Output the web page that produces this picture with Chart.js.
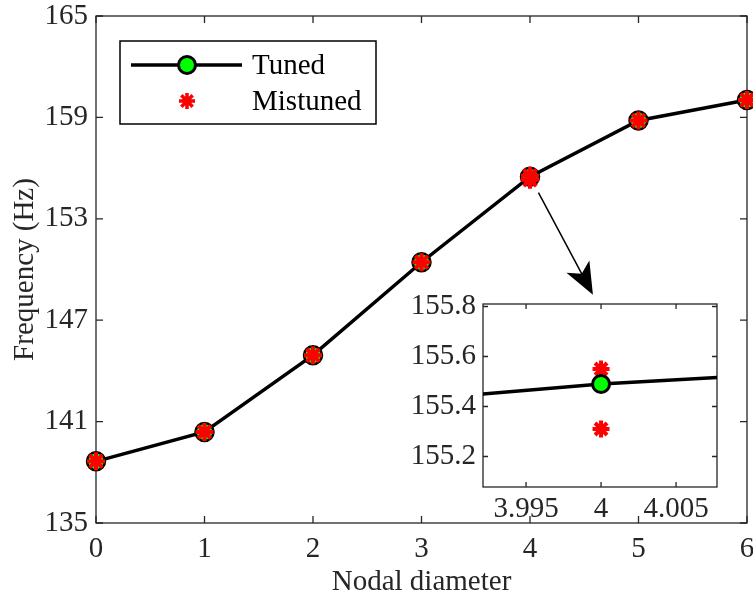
<!DOCTYPE html>
<html>
<head>
<meta charset="utf-8">
<script src="https://cdn.jsdelivr.net/npm/chart.js@4.4.0/dist/chart.umd.min.js"></script>
<style>
  html, body { margin: 0; padding: 0; background: #fff; }
  #wrap { position: relative; width: 753px; height: 602px; }
  #main { position: absolute; left: 0; top: 0; }
  #inset { position: absolute; left: 400px; top: 280px; }
</style>
</head>
<body>
<div id="wrap">
  <canvas id="main" width="753" height="602"></canvas>
  <canvas id="inset" width="345" height="250"></canvas>
</div>
<script>
// Values
const nodalDiameters = [0, 1, 2, 3, 4, 5, 6];
const tunedFreq = [138.65, 140.39, 144.93, 150.43, 155.49, 158.82, 160.03];
const mistunedND = [0, 1, 2, 3, 4, 4, 5, 6];
const mistunedFreq = [138.65, 140.39, 144.93, 150.43, 155.55, 155.31, 158.82, 160.03];

const mainXTicks = [0, 1, 2, 3, 4, 5, 6];
const mainYTicks = [135, 141, 147, 153, 159, 165];
const insetXTicks = [3.995, 4, 4.005];
const insetYTicks = [155.2, 155.4, 155.6, 155.8];
const insetXRange = [3.99213, 4.00773];
const insetYRange = [155.078, 155.81];

// arrow from the ND=4 point down to the inset
const arrowFrom = { x: 4, y: 155.49 };
const arrowTo = { x: 4.58, y: 148.5 };

const FONT = "'Liberation Serif', 'Times New Roman', serif";
const AXIS_COLOR = '#262626';

const toPoints = (xs, ys) => xs.map((x, i) => ({ x: x, y: ys[i] }));

function fixedTicks(values) {
  return scale => { scale.ticks = values.map(v => ({ value: v })); };
}

// pin the axis size and drop the label overflow padding chart.js adds
function fitTo(prop, size) {
  return s => {
    s[prop] = size;
    s.paddingLeft = 0; s.paddingRight = 0;
    s.paddingTop = 0; s.paddingBottom = 0;
  };
}

// box round the axes with inward ticks, like MATLAB
function framePlugin(len, lw) {
  return {
    id: 'frame',
    beforeDraw(chart) {
      const { ctx, chartArea: a } = chart;
      ctx.save();
      ctx.fillStyle = '#fff';
      ctx.fillRect(a.left, a.top, a.right - a.left, a.bottom - a.top);
      ctx.restore();
    },
    beforeDatasetsDraw(chart) {
      const { ctx, chartArea: a, scales } = chart;
      const x = scales.x, y = scales.y;
      ctx.save();
      ctx.strokeStyle = AXIS_COLOR;
      ctx.lineWidth = lw;
      ctx.strokeRect(a.left, a.top, a.right - a.left, a.bottom - a.top);
      ctx.beginPath();
      x.ticks.forEach(t => {
        const px = x.getPixelForValue(t.value);
        ctx.moveTo(px, a.bottom); ctx.lineTo(px, a.bottom - len);
        ctx.moveTo(px, a.top); ctx.lineTo(px, a.top + len);
      });
      y.ticks.forEach(t => {
        const py = y.getPixelForValue(t.value);
        ctx.moveTo(a.left, py); ctx.lineTo(a.left + len, py);
        ctx.moveTo(a.right, py); ctx.lineTo(a.right - len, py);
      });
      ctx.stroke();
      ctx.restore();
    }
  };
}

function drawAsterisk(ctx, cx, cy, r, lw) {
  ctx.save();
  ctx.strokeStyle = '#ff0000';
  ctx.lineWidth = lw;
  ctx.beginPath();
  for (let k = 0; k < 4; k++) {
    const ang = k * Math.PI / 4;
    ctx.moveTo(cx - Math.cos(ang) * r, cy - Math.sin(ang) * r);
    ctx.lineTo(cx + Math.cos(ang) * r, cy + Math.sin(ang) * r);
  }
  ctx.stroke();
  ctx.restore();
}

const legendPlugin = {
  id: 'boxLegend',
  afterDraw(chart) {
    const { ctx, chartArea: a } = chart;
    const bx = a.left + 24, by = a.top + 25, bw = 256, bh = 83;
    ctx.save();
    ctx.fillStyle = '#fff';
    ctx.fillRect(bx, by, bw, bh);
    ctx.strokeStyle = '#000';
    ctx.lineWidth = 1.5;
    ctx.strokeRect(bx, by, bw, bh);

    const row1 = by + 24, row2 = by + 60, mx = bx + 67;
    ctx.lineWidth = 3.5;
    ctx.beginPath();
    ctx.moveTo(bx + 11, row1);
    ctx.lineTo(bx + 122, row1);
    ctx.stroke();
    ctx.beginPath();
    ctx.arc(mx, row1, 8.5, 0, Math.PI * 2);
    ctx.fillStyle = '#00ff00';
    ctx.fill();
    ctx.lineWidth = 3;
    ctx.stroke();
    drawAsterisk(ctx, mx, row2, 8, 3.5);

    ctx.fillStyle = '#000';
    ctx.font = '29px ' + FONT;
    ctx.textBaseline = 'middle';
    ctx.fillText('Tuned', bx + 132, row1 + 1);
    ctx.fillText('Mistuned', bx + 132, row2 + 1);
    ctx.restore();
  }
};

const arrowPlugin = {
  id: 'zoomArrow',
  afterDraw(chart) {
    const { ctx, scales } = chart;
    const x0 = scales.x.getPixelForValue(arrowFrom.x);
    const y0 = scales.y.getPixelForValue(arrowFrom.y);
    const x1 = scales.x.getPixelForValue(arrowTo.x);
    const y1 = scales.y.getPixelForValue(arrowTo.y);
    const L = Math.hypot(x1 - x0, y1 - y0);
    const ux = (x1 - x0) / L, uy = (y1 - y0) / L;
    const px = -uy, py = ux;
    const sx = x0 + ux * 18, sy = y0 + uy * 18;
    const headLen = 32, halfW = 13;
    const bxp = x1 - ux * headLen, byp = y1 - uy * headLen;
    ctx.save();
    ctx.strokeStyle = '#000';
    ctx.fillStyle = '#000';
    ctx.lineWidth = 1.5;
    ctx.beginPath();
    ctx.moveTo(sx, sy);
    ctx.lineTo(x1 - ux * 20, y1 - uy * 20);
    ctx.stroke();
    ctx.beginPath();
    ctx.moveTo(x1, y1);
    ctx.lineTo(bxp + px * halfW, byp + py * halfW);
    ctx.lineTo(x1 - ux * headLen * 0.75, y1 - uy * headLen * 0.75);
    ctx.lineTo(bxp - px * halfW, byp - py * halfW);
    ctx.closePath();
    ctx.fill();
    ctx.restore();
  }
};

const tickFont = () => ({ family: FONT, size: 29 });

// main chart
new Chart(document.getElementById('main'), {
  type: 'scatter',
  data: {
    datasets: [
      {
        label: 'Mistuned',
        data: toPoints(mistunedND, mistunedFreq),
        showLine: false,
        clip: false,
        pointStyle: 'star',
        pointRadius: 9,
        pointBorderWidth: 4,
        borderColor: '#ff0000',
        backgroundColor: '#ff0000',
        order: 0
      },
      {
        label: 'Tuned',
        data: toPoints(nodalDiameters, tunedFreq),
        showLine: true,
        clip: false,
        borderColor: '#000',
        borderWidth: 3.5,
        pointStyle: 'circle',
        pointRadius: 9,
        pointBorderWidth: 2.5,
        pointBackgroundColor: '#00ff00',
        pointBorderColor: '#000',
        order: 1
      }
    ]
  },
  options: {
    responsive: false,
    devicePixelRatio: 1,
    animation: false,
    layout: { autoPadding: false, padding: { top: 16, right: 6, left: 0, bottom: 0 } },
    plugins: { legend: { display: false }, tooltip: { enabled: false } },
    elements: { point: { hitRadius: 0 } },
    scales: {
      x: {
        type: 'linear', min: 0, max: 6,
        afterBuildTicks: fixedTicks(mainXTicks),
        afterFit: fitTo('height', 79),
        grid: { display: false, drawTicks: false },
        border: { display: false },
        ticks: { font: tickFont(), color: AXIS_COLOR, padding: 9, maxRotation: 0, callback: v => String(v) },
        title: { display: true, text: 'Nodal diameter', font: { family: FONT, size: 29 }, color: AXIS_COLOR, padding: { top: 0, bottom: 2 } }
      },
      y: {
        type: 'linear', min: 135, max: 165,
        afterBuildTicks: fixedTicks(mainYTicks),
        afterFit: fitTo('width', 96),
        grid: { display: false, drawTicks: false },
        border: { display: false },
        ticks: { font: tickFont(), color: AXIS_COLOR, padding: 8, callback: v => String(v) },
        title: { display: true, text: 'Frequency (Hz)', font: { family: FONT, size: 29 }, color: AXIS_COLOR, padding: { top: 8, bottom: 0 } }
      }
    }
  },
  plugins: [framePlugin(7, 1.3), legendPlugin, arrowPlugin]
});

// zoomed inset round ND = 4
new Chart(document.getElementById('inset'), {
  type: 'scatter',
  data: {
    datasets: [
      {
        label: 'Mistuned',
        data: toPoints(mistunedND, mistunedFreq),
        showLine: false,
        pointStyle: 'star',
        pointRadius: 8.5,
        pointBorderWidth: 4,
        borderColor: '#ff0000',
        backgroundColor: '#ff0000',
        order: 1
      },
      {
        label: 'Tuned',
        data: toPoints(nodalDiameters, tunedFreq),
        showLine: true,
        borderColor: '#000',
        borderWidth: 3.5,
        pointStyle: 'circle',
        pointRadius: 8.5,
        pointBorderWidth: 3,
        pointBackgroundColor: '#00ff00',
        pointBorderColor: '#000',
        order: 0
      }
    ]
  },
  options: {
    responsive: false,
    devicePixelRatio: 1,
    animation: false,
    layout: { autoPadding: false, padding: { top: 24, right: 28, left: 0, bottom: 0 } },
    plugins: { legend: { display: false }, tooltip: { enabled: false } },
    elements: { point: { hitRadius: 0 } },
    scales: {
      x: {
        type: 'linear', min: insetXRange[0], max: insetXRange[1],
        afterBuildTicks: fixedTicks(insetXTicks),
        afterFit: fitTo('height', 43),
        grid: { display: false, drawTicks: false },
        border: { display: false },
        ticks: { font: tickFont(), color: AXIS_COLOR, padding: 5, maxRotation: 0, autoSkip: false, callback: v => String(v) }
      },
      y: {
        type: 'linear', min: insetYRange[0], max: insetYRange[1],
        afterBuildTicks: fixedTicks(insetYTicks),
        afterFit: fitTo('width', 83),
        grid: { display: false, drawTicks: false },
        border: { display: false },
        ticks: { font: tickFont(), color: AXIS_COLOR, padding: 7, autoSkip: false, callback: v => v.toFixed(1) }
      }
    }
  },
  plugins: [framePlugin(5, 1.3)]
});
</script>
</body>
</html>
